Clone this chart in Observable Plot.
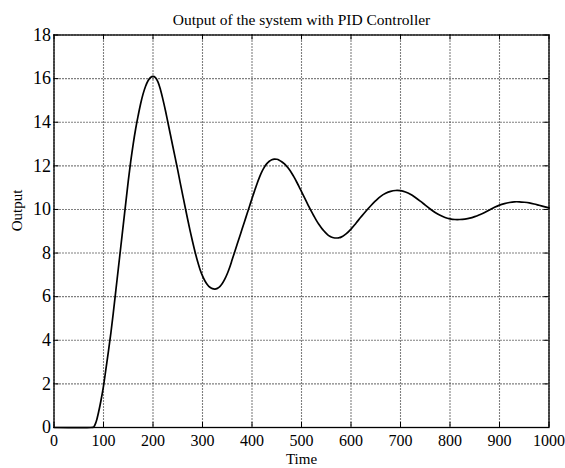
<!DOCTYPE html>
<html>
<head>
<meta charset="utf-8">
<script src="https://cdn.jsdelivr.net/npm/d3@7"></script>
<script src="https://cdn.jsdelivr.net/npm/@observablehq/plot@0.6"></script>
<style>
  html, body { margin: 0; padding: 0; background: white; }
  #chart svg text { font-family: 'Liberation Serif', 'Times New Roman', serif !important; font-variant: normal !important; }
</style>
</head>
<body>
<div id="chart"></div>
<script>
const titleText = "Output of the system with PID Controller";
const xLabel = "Time";
const yLabel = "Output";
const xTicks = [0, 100, 200, 300, 400, 500, 600, 700, 800, 900, 1000];
const yTicks = [0, 2, 4, 6, 8, 10, 12, 14, 16, 18];

const times = [0, 75, 80, 85, 90, 95, 100, 105, 110, 115, 120, 125, 130, 135, 140, 145, 150, 155, 160, 165, 170, 175, 180, 185, 190, 195, 200, 205, 210, 215, 220, 225, 230, 235, 240, 245, 250, 255, 260, 265, 270, 275, 280, 285, 290, 295, 300, 305, 310, 315, 320, 325, 330, 335, 340, 345, 350, 355, 360, 365, 370, 375, 380, 385, 390, 395, 400, 405, 410, 415, 420, 425, 430, 435, 440, 445, 450, 455, 460, 465, 470, 475, 480, 485, 490, 495, 500, 505, 510, 515, 520, 525, 530, 535, 540, 545, 550, 555, 560, 565, 570, 575, 580, 590, 600, 610, 620, 630, 640, 650, 660, 670, 680, 690, 700, 710, 720, 730, 740, 750, 760, 770, 780, 790, 800, 810, 820, 830, 840, 850, 860, 870, 880, 890, 900, 910, 920, 930, 940, 950, 960, 970, 980, 990, 1000];
const outputs = [0, 0, 0.02, 0.25, 0.7, 1.25, 1.9, 2.7, 3.5, 4.35, 5.3, 6.3, 7.3, 8.3, 9.3, 10.3, 11.3, 12.2, 13.0, 13.7, 14.3, 14.85, 15.3, 15.65, 15.9, 16.05, 16.1, 16.05, 15.85, 15.5, 15.05, 14.55, 14.0, 13.45, 12.9, 12.35, 11.8, 11.22, 10.66, 10.1, 9.55, 9.02, 8.52, 8.05, 7.62, 7.25, 6.95, 6.72, 6.55, 6.43, 6.37, 6.35, 6.38, 6.46, 6.6, 6.8, 7.05, 7.35, 7.7, 8.05, 8.4, 8.75, 9.1, 9.45, 9.8, 10.15, 10.5, 10.84, 11.17, 11.47, 11.73, 11.94, 12.1, 12.21, 12.28, 12.31, 12.3, 12.26, 12.19, 12.1, 11.98, 11.84, 11.67, 11.48, 11.27, 11.05, 10.82, 10.59, 10.36, 10.13, 9.91, 9.7, 9.5, 9.32, 9.16, 9.02, 8.9, 8.8, 8.74, 8.7, 8.69, 8.7, 8.73, 8.88, 9.1, 9.37, 9.65, 9.92, 10.17, 10.4, 10.6, 10.74, 10.83, 10.87, 10.86, 10.8, 10.7, 10.55, 10.38, 10.2, 10.02, 9.86, 9.73, 9.63, 9.57, 9.54, 9.54, 9.56, 9.6, 9.67, 9.76, 9.86, 9.98, 10.1, 10.2, 10.27, 10.32, 10.35, 10.35, 10.33, 10.3, 10.25, 10.19, 10.13, 10.07];

const data = times.map((t, i) => ({t, v: outputs[i]}));

const W = 565, H = 468;
const mL = 53.5, mR = 16.5, mT = 34.5, mB = 41;
const fw = W - mL - mR, fh = H - mT - mB;
const tickLen = 5;
const font = "'Liberation Serif', 'Times New Roman', serif";

const chart = Plot.plot({
  width: W,
  height: H,
  marginLeft: mL,
  marginRight: mR,
  marginTop: mT,
  marginBottom: mB,
  style: {fontFamily: font, background: "white", color: "black", overflow: "visible"},
  x: {domain: [0, 1000], ticks: xTicks, label: null},
  y: {domain: [0, 18], ticks: yTicks, label: null},
  marks: [
    Plot.gridX(xTicks, {stroke: "black", strokeOpacity: 1, strokeWidth: 1.1, strokeDasharray: "1,2"}),
    Plot.gridY(yTicks, {stroke: "black", strokeOpacity: 1, strokeWidth: 1.1, strokeDasharray: "1,2"}),
    Plot.tickX(xTicks, {x: d => d, insetTop: fh - tickLen, stroke: "black"}),
    Plot.tickX(xTicks, {x: d => d, insetBottom: fh - tickLen, stroke: "black"}),
    Plot.tickY(yTicks, {y: d => d, insetRight: fw - tickLen, stroke: "black"}),
    Plot.tickY(yTicks, {y: d => d, insetLeft: fw - tickLen, stroke: "black"}),
    Plot.axisX({ticks: xTicks, tickSize: 0, tickPadding: 7, fontSize: 16, fontFamily: font, tickFormat: d => String(d), label: null}),
    Plot.axisY({ticks: yTicks, tickSize: 0, tickPadding: 3, fontSize: 18, fontFamily: font, tickFormat: d => String(d), label: null}),
    Plot.line(data, {x: "t", y: "v", curve: "catmull-rom", stroke: "black", strokeWidth: 1.7}),
    Plot.frame({stroke: "black", strokeWidth: 1.3}),
    Plot.text([titleText], {text: d => d, frameAnchor: "top", dy: -21, fontSize: 15.5, fontFamily: font}),
    Plot.text([xLabel], {text: d => d, frameAnchor: "bottom", dy: 36, fontSize: 15, fontFamily: font}),
    Plot.text([yLabel], {text: d => d, frameAnchor: "left", dx: -37, rotate: -90, fontSize: 15, fontFamily: font})
  ]
});
document.getElementById("chart").appendChild(chart);
</script>
</body>
</html>
